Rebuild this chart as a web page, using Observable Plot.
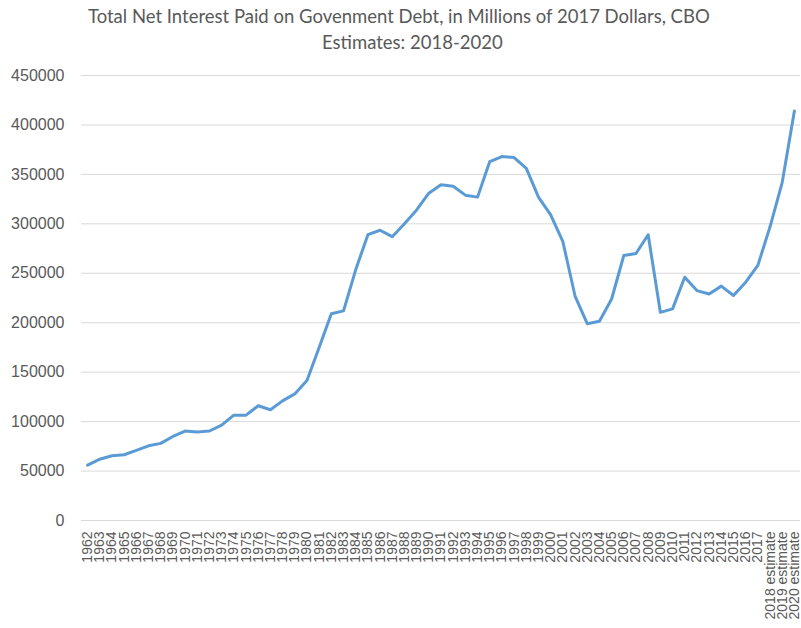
<!DOCTYPE html>
<html>
<head>
<meta charset="utf-8">
<script src="https://cdn.jsdelivr.net/npm/d3@7"></script>
<script src="https://cdn.jsdelivr.net/npm/@observablehq/plot@0.6"></script>
<style>
  html, body { margin: 0; padding: 0; background: #fff; }
  #wrap { position: relative; width: 801px; height: 628px; overflow: hidden; }
  .t { position: absolute; white-space: nowrap; font-family: Lato, "Open Sans", sans-serif; font-size: 18.5px; color: #595959; line-height: 1; }
  #wrap svg text { font-family: "Liberation Sans", Arial, sans-serif; }
</style>
</head>
<body>
<div id="wrap">
  <div class="t" id="t1" style="left:88px; top:7px;">Total Net Interest Paid on Govenment Debt, in Millions of 2017 Dollars, CBO</div>
  <div class="t" id="t2" style="left:322px; top:33px;">Estimates: 2018-2020</div>
</div>
<script>
const years = ["1962","1963","1964","1965","1966","1967","1968","1969","1970","1971","1972","1973","1974","1975","1976","1977","1978","1979","1980","1981","1982","1983","1984","1985","1986","1987","1988","1989","1990","1991","1992","1993","1994","1995","1996","1997","1998","1999","2000","2001","2002","2003","2004","2005","2006","2007","2008","2009","2010","2011","2012","2013","2014","2015","2016","2017","2018 estimate","2019 estimate","2020 estimate"];
const interest = [56000,62000,65500,66500,71000,75500,78000,85000,90500,89500,90500,96500,106500,106500,116000,112000,121000,128000,141500,175000,209000,212000,253500,289000,293500,287000,300000,314000,331000,339500,338000,329000,327000,363000,368000,367000,356000,327000,309000,282000,227000,199000,201500,224000,268000,270000,289000,210500,214000,246000,232500,229000,237000,227500,241000,258000,297000,342000,414000];
const yTicks = [0,50000,100000,150000,200000,250000,300000,350000,400000,450000];

const data = years.map((y, i) => ({year: y, value: interest[i]}));

const font = "Liberation Sans";

const chart = Plot.plot({
  width: 801,
  height: 628,
  marginTop: 75,
  marginBottom: 108,
  marginLeft: 81,
  marginRight: 1,
  style: { fontFamily: font, color: "#595959", background: "transparent" },
  x: { type: "point", domain: years, padding: 0.5, round: false, label: null },
  y: { domain: [0, 450000], label: null },
  marks: [
    Plot.ruleY(yTicks, { stroke: "#d9d9d9", strokeWidth: 1 }),
    Plot.axisY({ ticks: yTicks, tickSize: 0, tickPadding: 17, fontSize: 16, fontFamily: font, tickFormat: d => String(d), label: null, fill: "#595959" }),
    Plot.axisX({ tickSize: 0, tickRotate: -90, tickPadding: 11, fontSize: 14, fontFamily: font, label: null, fill: "#595959" }),
    Plot.line(data, { x: "year", y: "value", stroke: "#5B9BD5", strokeWidth: 3, strokeLinejoin: "round", strokeLinecap: "round" })
  ]
});
chart.style.position = "absolute";
chart.style.left = "0";
chart.style.top = "0";
document.getElementById("wrap").appendChild(chart);
</script>
</body>
</html>
